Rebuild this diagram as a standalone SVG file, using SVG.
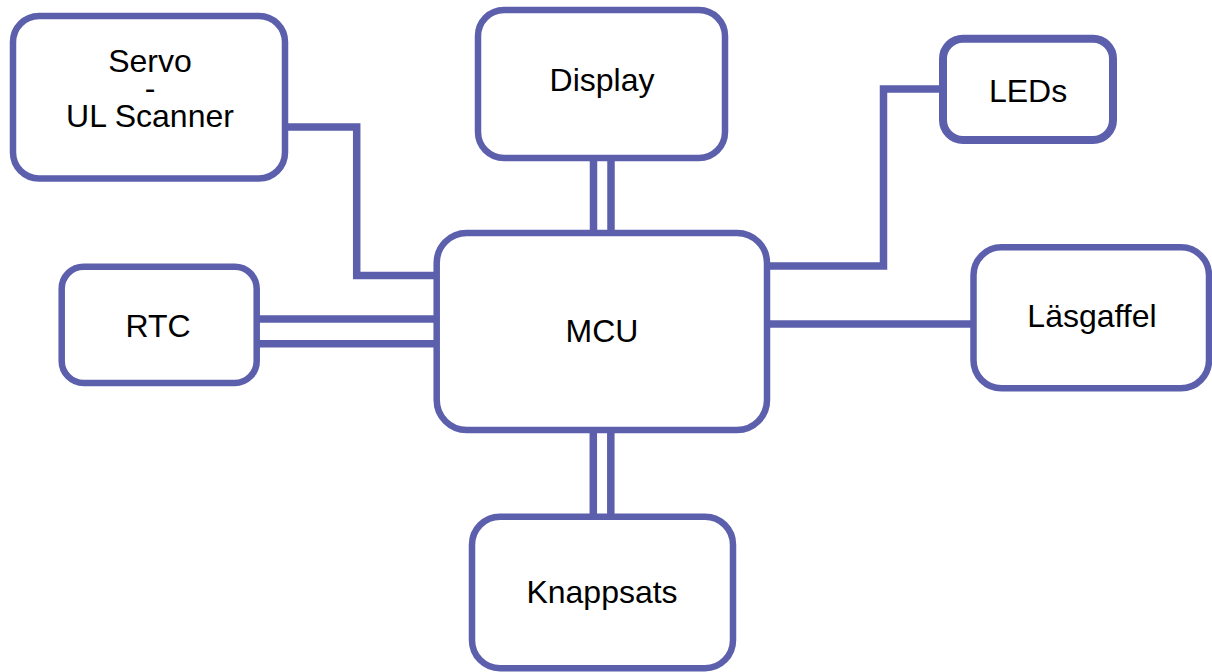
<svg xmlns="http://www.w3.org/2000/svg" width="1212" height="672" viewBox="0 0 1212 672">
<style>
.box{fill:#ffffff;stroke:#5b5fac;stroke-width:6.5}
.wire{fill:none;stroke:#5b5fac;stroke-width:7.5;stroke-linejoin:miter}
.lbl{font-family:"Liberation Sans",Arial,sans-serif;font-size:32px;fill:#000;text-anchor:middle}
</style>
<rect width="1212" height="672" fill="#ffffff"/>
<g id="connectors">
<polyline class="wire" points="285,127 356.7,127 356.7,275.5 437,275.5"/>
<line class="wire" x1="593.5" y1="158" x2="593.5" y2="233"/>
<line class="wire" x1="611" y1="158" x2="611" y2="233"/>
<line class="wire" x1="256.7" y1="319" x2="437" y2="319"/>
<line class="wire" x1="256.7" y1="343.7" x2="437" y2="343.7"/>
<polyline class="wire" points="943,89 883.5,89 883.5,266 767,266"/>
<line class="wire" x1="767" y1="324" x2="973.5" y2="324"/>
<line class="wire" x1="593.3" y1="430" x2="593.3" y2="517"/>
<line class="wire" x1="610.8" y1="430" x2="610.8" y2="517"/>
</g>
<g id="servo">
<rect class="box" x="13" y="16" width="272" height="162.5" rx="26"/>
<text class="lbl" x="150" y="72">Servo</text>
<text class="lbl" x="150" y="99">-</text>
<text class="lbl" x="150" y="127">UL Scanner</text>
</g>
<g id="display">
<rect class="box" x="478" y="10" width="247" height="148" rx="26"/>
<text class="lbl" x="602" y="91">Display</text>
</g>
<g id="leds">
<rect class="box" x="943" y="38.7" width="170" height="101.3" rx="20" style="stroke-width:8"/>
<text class="lbl" x="1028" y="101.7">LEDs</text>
</g>
<g id="rtc">
<rect class="box" x="61.7" y="266.7" width="195" height="116.3" rx="22"/>
<text class="lbl" x="158" y="336.7">RTC</text>
</g>
<g id="mcu">
<rect class="box" x="436.7" y="233" width="330.3" height="197" rx="30"/>
<text class="lbl" x="602" y="342">MCU</text>
</g>
<g id="lasgaffel">
<rect class="box" x="973.5" y="247.3" width="235.5" height="141" rx="28"/>
<text class="lbl" x="1092" y="326.7">Läsgaffel</text>
</g>
<g id="knappsats">
<rect class="box" x="472" y="516.7" width="261" height="151.5" rx="28"/>
<text class="lbl" x="602" y="602.7">Knappsats</text>
</g>
</svg>
